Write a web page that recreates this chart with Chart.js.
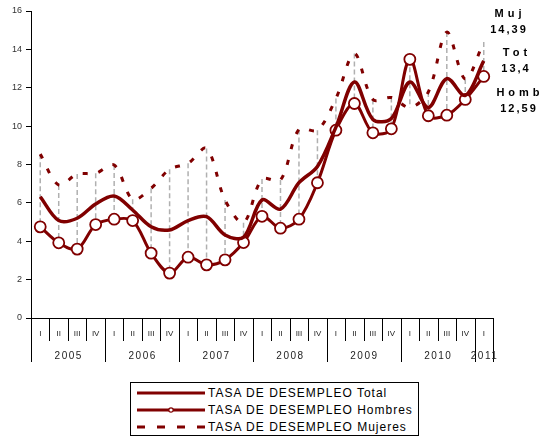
<!DOCTYPE html>
<html>
<head>
<meta charset="utf-8">
<script src="https://cdn.jsdelivr.net/npm/chart.js@4.4.0/dist/chart.umd.min.js"></script>
<style>
  body { margin: 0; background: #fff; }
  #wrap { position: relative; width: 546px; height: 437px; }
  #legend {
    position: absolute; left: 130px; top: 382px; width: 287px; height: 52px;
    border: 1px solid #000; background: #fff;
    font-family: "Liberation Sans", Arial, sans-serif; font-size: 12px; letter-spacing: 1px; color: #000;
  }
  #legend .row { height: 17px; display: flex; align-items: center; }
  #legend .row:first-child { margin-top: 1px; }
  #legend svg { margin-left: 6px; margin-right: 3px; }
</style>
</head>
<body>
<div id="wrap">
  <canvas id="lineChart" width="546" height="437"></canvas>
  <div id="legend">
    <div class="row"><svg width="68" height="10"><line x1="0" y1="5" x2="68" y2="5" stroke="#800000" stroke-width="3"/></svg>TASA DE DESEMPLEO Total</div>
    <div class="row"><svg width="68" height="10"><line x1="0" y1="5" x2="68" y2="5" stroke="#800000" stroke-width="3"/><circle cx="34" cy="5" r="2.2" fill="#fff" stroke="#800000" stroke-width="1.2"/></svg>TASA DE DESEMPLEO Hombres</div>
    <div class="row"><svg width="68" height="10"><line x1="0" y1="5" x2="68" y2="5" stroke="#800000" stroke-width="3" stroke-dasharray="8 12"/></svg>TASA DE DESEMPLEO Mujeres</div>
  </div>
</div>
<script>
const quarters = ['I', 'II', 'III', 'IV', 'I', 'II', 'III', 'IV', 'I', 'II', 'III', 'IV', 'I', 'II', 'III', 'IV',
                  'I', 'II', 'III', 'IV', 'I', 'II', 'III', 'IV', 'I'];
const years = ['2005', '2006', '2007', '2008', '2009', '2010', '2011'];
const total = [6.32, 5.08, 5.2, 5.94, 6.36, 5.63, 4.76, 4.59, 5.08, 5.28, 4.33, 4.21, 6.15,
               5.67, 7.05, 7.9, 9.95, 12.3, 10.35, 10.4, 12.3, 10.97, 12.48, 11.6, 13.4];
const hombres = [4.75, 3.92, 3.59, 4.87, 5.15, 5.08, 3.38, 2.34, 3.17, 2.77, 3.03, 3.93, 5.3,
                 4.68, 5.15, 7.05, 9.79, 11.18, 9.65, 9.86, 13.48, 10.54, 10.57, 11.39, 12.59];
const mujeres = [8.54, 6.93, 7.5, 7.54, 7.97, 6.19, 6.76, 7.75, 8.06, 8.84, 6.15, 4.97, 7.24,
                 7.19, 9.83, 9.79, 11.44, 13.78, 11.39, 11.49, 10.97, 11.78, 14.9, 12.45, 14.39];
const yTicks = [0, 2, 4, 6, 8, 10, 12, 14, 16];

const red = '#800000';
const fmt = v => String(v).replace('.', ',');

// gray high-low lines between the series at every quarter
const hiLowLines = {
    id: 'hiLowLines',
    beforeDatasetsDraw(chart) {
        const { ctx, scales: { x, y } } = chart;
        ctx.save();
        ctx.strokeStyle = '#b0b0b0';
        ctx.lineWidth = 1.5;
        ctx.setLineDash([5, 3]);
        quarters.forEach((q, i) => {
            const vals = [total[i], hombres[i], mujeres[i]];
            const px = x.getPixelForValue(i);
            ctx.beginPath();
            ctx.moveTo(px, y.getPixelForValue(Math.max(...vals)));
            ctx.lineTo(px, y.getPixelForValue(Math.min(...vals)));
            ctx.stroke();
        });
        ctx.restore();
    }
};

// table-like category axis: separators and year labels
const yearAxis = {
    id: 'yearAxis',
    afterDraw(chart) {
        const { ctx, scales: { x }, chartArea } = chart;
        const n = quarters.length;
        const w = x.width / n;
        const base = chartArea.bottom;
        ctx.save();
        ctx.strokeStyle = '#000';
        ctx.lineWidth = 1;
        for (let i = 0; i <= n; i++) {
            const px = Math.round(x.left + i * w) + 0.5;
            const long = i % 4 === 0 || i === n;
            ctx.beginPath();
            ctx.moveTo(px, base);
            ctx.lineTo(px, base + (long ? 44 : 23));
            ctx.stroke();
        }
        ctx.fillStyle = '#222';
        ctx.font = '10px "Liberation Sans", Arial, sans-serif';
        ctx.letterSpacing = '1.5px';
        ctx.textAlign = 'center';
        ctx.textBaseline = 'middle';
        years.forEach((yr, k) => {
            const first = k * 4;
            const last = Math.min(first + 3, n - 1);
            const cx = (x.getPixelForValue(first) + x.getPixelForValue(last)) / 2;
            ctx.fillText(yr, cx + 0.75, base + 38);
        });
        ctx.restore();
    }
};

// last values written at the right side
const endLabels = {
    id: 'endLabels',
    afterDraw(chart) {
        const { ctx, chartArea } = chart;
        const r = chartArea.right;
        const items = [
            ['Muj', r + 15, 14, 4], [fmt(mujeres[mujeres.length - 1]), r + 15, 30, 2],
            ['Tot', r + 22, 53, 4], [fmt(total[total.length - 1]), r + 22, 69, 2],
            ['Homb', r + 25, 93, 4], [fmt(hombres[hombres.length - 1]), r + 25, 109, 2]
        ];
        ctx.save();
        ctx.fillStyle = '#000';
        ctx.font = 'bold 11px "Liberation Sans", Arial, sans-serif';
        ctx.textAlign = 'center';
        ctx.textBaseline = 'middle';
        items.forEach(([t, px, py, sp]) => {
            ctx.letterSpacing = sp + 'px';
            ctx.fillText(t, px + sp / 2, py);
        });
        ctx.restore();
    }
};

document.addEventListener('DOMContentLoaded', () => {
    const lineCtx = document.getElementById('lineChart')?.getContext('2d');
    if (lineCtx) {
        new Chart(lineCtx, {
            type: 'line',
            data: {
                labels: quarters,
                datasets: [{
                    label: 'TASA DE DESEMPLEO Total',
                    data: total,
                    borderColor: red,
                    borderWidth: 3.5,
                    pointRadius: 0,
                    tension: 0.33,
                    fill: false
                }, {
                    label: 'TASA DE DESEMPLEO Hombres',
                    data: hombres,
                    borderColor: red,
                    borderWidth: 3,
                    pointRadius: 5.5,
                    pointBackgroundColor: '#fff',
                    pointBorderColor: red,
                    pointBorderWidth: 1.8,
                    tension: 0.33,
                    fill: false
                }, {
                    label: 'TASA DE DESEMPLEO Mujeres',
                    data: mujeres,
                    borderColor: red,
                    borderWidth: 3,
                    borderDash: [5, 11],
                    pointRadius: 0,
                    tension: 0.33,
                    fill: false
                }]
            },
            options: {
                responsive: false,
                animation: false,
                layout: { padding: { top: 11, right: 53, left: 0, bottom: 0 } },
                plugins: { legend: { display: false }, tooltip: { enabled: false } },
                scales: {
                    x: {
                        offset: true,
                        grid: { display: false, drawTicks: false, offset: true },
                        border: { color: '#000', width: 1 },
                        ticks: {
                            color: '#222', padding: 11, maxRotation: 0, autoSkip: false,
                            font: { family: '"Liberation Sans", Arial, sans-serif', size: 8 }
                        },
                        afterFit: s => { s.height = 119; }
                    },
                    y: {
                        min: 0,
                        max: 16,
                        grid: { drawOnChartArea: false, tickLength: 5, color: '#000' },
                        border: { color: '#000', width: 1 },
                        afterBuildTicks: s => { s.ticks = yTicks.map(v => ({ value: v })); },
                        ticks: {
                            color: '#333', padding: 4,
                            font: { family: '"Liberation Sans", Arial, sans-serif', size: 9 }
                        },
                        afterFit: s => { s.width = 31; }
                    }
                }
            },
            plugins: [hiLowLines, yearAxis, endLabels]
        });
    }
});
</script>
</body>
</html>
